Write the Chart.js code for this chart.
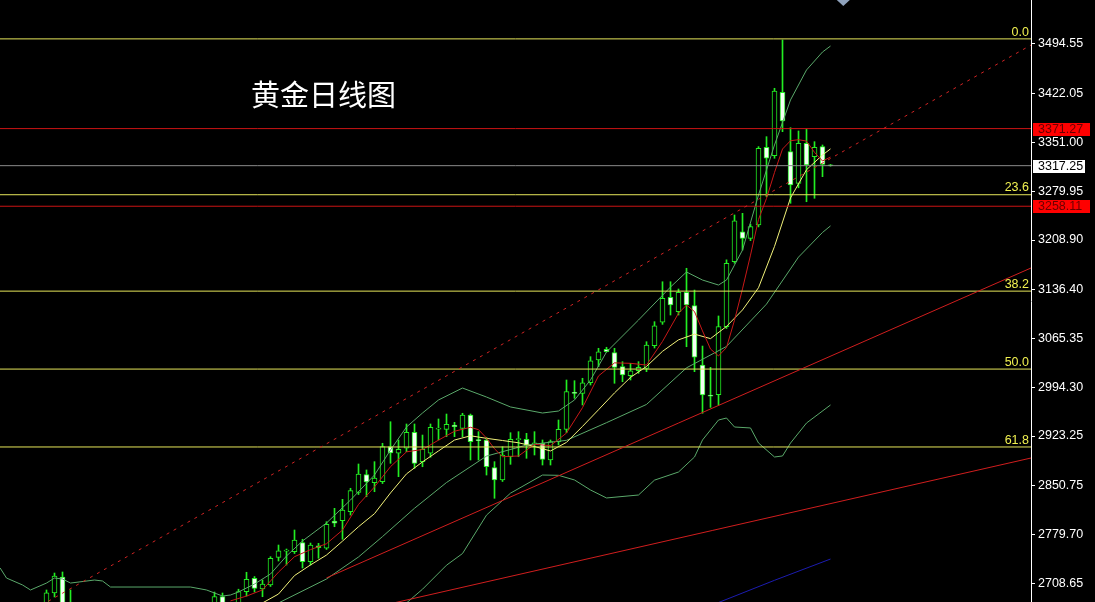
<!DOCTYPE html>
<html>
<head>
<meta charset="utf-8">
<script src="https://cdn.jsdelivr.net/npm/chart.js@4.4.1/dist/chart.umd.min.js"></script>
<style>
  html, body { margin: 0; padding: 0; background: #000; overflow: hidden; }
  #wrap { width: 1095px; height: 602px; position: relative; }
</style>
</head>
<body>
<div id="wrap"><canvas id="chart"></canvas></div>
<script>
// daily candles, one per bar index (null = below the visible window)
const opens = [null, null, null, null, null, 2675.6, 2694.5, 2717.8, 2660,
  null, null, null, null, null, null, null, null, null, null, null, null, null, null, null, null, null,
  2680, 2689.4, null, 2672, 2696.4, 2715.9, 2700.3, 2706.2, 2746.5, 2755.6, 2754.7, 2767.8, 2740.1, 2763.4,
  2760.0, 2799.4, 2799.9, 2812.9, 2840.9, 2867.2, 2855.2, 2856.7, 2907.7, 2898.1, 2905.4, 2928.7, 2885.9,
  2898.1, 2933.4, 2933.0, 2939.3, 2934.5, 2953.9, 2918.0, 2917.5, 2877.1, 2859.2, 2893.1, 2918.0, 2918.5,
  2912.0, 2912.7, 2888.3, 2915.0, 2933.0, 2986.9, 2985.5, 3000.9, 3034.1, 3049.6, 3044.7, 3024.3, 3011.2,
  3018.4, 3021.9, 3054.9, 3089.0, 3125.4, 3104.4, 3132.7, 3113.2, 3026.8, 2983.0, 2983.7, 3082.6, 3177.3,
  3221.0, 3211.4, 3230.8, 3344.0, 3331.8, 3424.2, 3337.6, 3291.5, 3349.8, 3330.3, 3344.9, 3318.5]
const highs = [null, null, null, null, null, 2698.9, 2723.6, 2725.1, 2698.9,
  null, null, null, null, null, null, null, null, null, null, null, null, null, null, null, null, null,
  2695.9, 2694.5, null, 2700, 2724.7, 2718.5, 2713.4, 2747.4, 2764.4, 2758.6, 2786.3, 2772.8, 2767.3, 2766.9,
  2798.4, 2817.9, 2831.0, 2847.1, 2882.5, 2873.8, 2885.9, 2912.7, 2944.1, 2917.5, 2940.8, 2940.8, 2924.7,
  2940.8, 2948.1, 2955.3, 2943.2, 2956.4, 2955.3, 2929.6, 2921.4, 2885.9, 2907.7, 2928.1, 2929.6, 2927.2,
  2929.6, 2917.5, 2917.5, 2946.6, 3004.9, 3003.9, 3007.4, 3038.9, 3051.1, 3052.6, 3051.1, 3031.6, 3029.2,
  3031.6, 3060.7, 3089.9, 3148.1, 3148.1, 3137.5, 3167.7, 3136.0, 3054.4, 3023.4, 3098.2, 3180, 3245.4,
  3247.8, 3232, 3345, 3359.5, 3430.0, 3500.4, 3372.6, 3367.8, 3370.2, 3352.2, 3347.4, 3319.0]
const lows = [null, null, null, null, null, 2670, 2688.7, 2660, 2650,
  null, null, null, null, null, null, null, null, null, null, null, null, null, null, null, null, null,
  2675, 2670, null, 2668, 2690, 2695.9, 2689.1, 2704, 2741.1, 2735.3, 2752, 2730.9, 2735.3, 2745.1,
  2758, 2791.1, 2772.8, 2808.1, 2838, 2834.8, 2842.1, 2854, 2883.5, 2864.0, 2900.4, 2876.2, 2878.5,
  2892.3, 2917.5, 2922.3, 2922.3, 2922.3, 2888.3, 2888.3, 2866.4, 2832.5, 2857, 2882.0, 2893.1, 2890.8,
  2895.6, 2881.0, 2881.0, 2910.2, 2928, 2978.2, 2968.5, 2997.6, 3024.3, 3045.7, 3000.1, 3002.4, 3004.9,
  3014.6, 3017.0, 3051.5, 3086, 3099.6, 3099.6, 3053.4, 3017.0, 2956.4, 2965, 2968.5, 3080, 3175,
  3194.3, 3208, 3228, 3272.0, 3328, 3366.8, 3262.4, 3285, 3264.7, 3269.7, 3301.2, 3316.5]
const closes = [null, null, null, null, null, 2694.9, 2719.3, 2666.8, 2672,
  null, null, null, null, null, null, null, null, null, null, null, null, null, null, null, null, null,
  2689.1, 2675, null, 2696.4, 2714.5, 2701.3, 2707.6, 2745.1, 2756.1, 2757.0, 2771.7, 2740.1, 2764.4, 2760.5,
  2794.6, 2796.1, 2815.5, 2843.6, 2867.9, 2856.3, 2862.1, 2908.0, 2898.5, 2903.9, 2928.7, 2883.5, 2903.9,
  2936.0, 2934.8, 2940.3, 2936.8, 2953.9, 2915.0, 2916.5, 2878.5, 2859.2, 2895.6, 2918.5, 2919.5, 2910.2,
  2913.5, 2889.3, 2915.0, 2933.0, 2987.9, 2985.4, 3000.9, 3033.0, 3046.1, 3046.1, 3023.4, 3012.2, 3018.4,
  3023.4, 3055.9, 3084.0, 3124.0, 3114.2, 3132.7, 3114.2, 3038.0, 2983.0, 2981.5, 3082.6, 3175.0, 3237.0,
  3211.4, 3228.3, 3342.6, 3328.0, 3426.1, 3382.3, 3289.1, 3349.8, 3318.2, 3344.0, 3319.2, 3317.25]

// indicator lines: [bar index, price]
const ma5 = [[28, 2683], [30, 2690.0], [32, 2699.0], [34, 2724.9], [36, 2747.4], [38, 2757.7], [40, 2766.3],
  [42, 2786.2], [44, 2823.5], [46, 2849.1], [48, 2878.6], [50, 2900.2], [52, 2903.7], [54, 2917.3],
  [56, 2930.2], [58, 2936.0], [59, 2932.5], [60, 2920.3], [61, 2904.6], [62, 2893.1], [63, 2893.7],
  [64, 2894.1], [66, 2911.2], [68, 2909.2], [70, 2927.6], [72, 2964.6], [74, 3010.8], [76, 3029.9],
  [78, 3029.2], [80, 3026.7], [82, 3061.1], [84, 3102.2], [85, 3114.1], [86, 3104.6], [87, 3076.4],
  [88, 3050.0], [89, 3040.0], [90, 3052.2], [91, 3092.0], [92, 3137.7], [93, 3186.9], [94, 3238.9],
  [95, 3269.5], [96, 3307.3], [97, 3341.5], [98, 3353.6], [99, 3355.1], [100, 3353.1], [101, 3336.7],
  [102, 3324.1], [103, 3329.7]]
const ma10 = [[32, 2680], [34, 2693], [36, 2719.9], [38, 2735.4], [40, 2749.8], [42, 2770.1], [44, 2791.1],
  [46, 2810.1], [48, 2840.3], [50, 2868.1], [52, 2885.6], [54, 2901.5], [56, 2917.4], [58, 2923.6],
  [60, 2919.9], [62, 2916.7], [64, 2913.4], [66, 2908.0], [68, 2901.5], [70, 2914.0], [72, 2937.3],
  [74, 2961.5], [76, 2986.1], [78, 3008.7], [80, 3024.6], [82, 3046.7], [84, 3063.4], [86, 3071.7],
  [88, 3065.2], [90, 3083.0], [92, 3107.0], [94, 3139.4], [96, 3199.6], [98, 3270.2], [100, 3311.3],
  [102, 3332.8], [103, 3341.7]]
const bandUpper = [[-0.8, 2731], [0, 2716.3], [2, 2706.2], [3, 2698.9], [5, 2709.0], [6, 2716.3], [7, 2714.9],
  [8, 2709.0], [11, 2713.4], [12, 2712.0], [13, 2703.2], [23, 2703.2], [25, 2698.9], [27, 2690.1],
  [28, 2691.6], [29, 2696.0], [31, 2707.6], [33, 2722.2], [35, 2748.4], [37, 2770.3], [40, 2796.5],
  [43, 2830.0], [46, 2866.5], [48, 2902.9], [50, 2936.4], [52, 2956.8], [54, 2975.8], [57, 2993.2],
  [60, 2980.1], [63, 2965.6], [67, 2956.8], [69, 2959.7], [71, 2975.8], [73, 3004.9], [75, 3045.7],
  [79, 3092.3], [83, 3140.4], [85, 3162.3], [87, 3150.6], [89, 3143.3], [90, 3150.6], [92, 3194.3],
  [94, 3274.5], [96, 3347.4], [98, 3413.0], [100, 3456.7], [102, 3482.9], [103, 3491.6]]
const bandMiddle = [[34, 2680], [40, 2714.9], [44, 2747.0], [47, 2776.7], [51, 2818.0], [55, 2855.5],
  [60, 2894.0], [65, 2910.1], [70, 2917.0], [75, 2942.7], [80, 2969.3], [85, 3022.6], [90, 3053.8],
  [95, 3115.5], [99, 3184.0], [102, 3219.9], [103, 3229.5]]
const bandLower = [[50, 2680], [52, 2700], [55, 2735], [57, 2752], [60, 2808], [63, 2840], [67, 2866.4],
  [69, 2866], [71, 2859.2], [73, 2844.6], [75, 2833], [79, 2837.3], [81, 2859], [84, 2870.8], [86, 2892.7],
  [87, 2917.5], [89, 2946.6], [90, 2949.5], [91, 2936.4], [93, 2935], [94, 2913.1], [96, 2892.7],
  [97, 2894.2], [98, 2913], [100, 2942.2], [103, 2968.5]]
const longMa = [[88, 2676], [96, 2713], [103, 2744]]

// drawn objects
const channelDashed = [[0, 2648], [128.06, 3493.0]]
const trendUpper = [[40, 2716.5], [128.06, 3168.1]]
const trendLower = [[45, 2671.0], [128.06, 2891.2]]
const fibLabels = ['0.0', '23.6', '38.2', '50.0', '61.8']
const fibValues = [3502.0, 3274.9, 3134.4, 3020.8, 2907.3]
const redLevels = [3371.27, 3258.11]
const lastPrice = 3317.25
const axisTicks = [3494.55, 3422.05, 3351.00, 3279.95, 3208.90, 3136.40, 3065.35, 2994.30, 2923.25,
  2850.75, 2779.70, 2708.65]
const titleText = '黄金日线图'

const xMin = -0.8125
const xMax = 128.0625
const yMin = 2681.38
const yMax = 3558.67
const green = '#22ee22'

const wickData = []
const bodyData = []
const bodyFill = []
closes.forEach((c, i) => {
  if (c === null) return
  wickData.push({ x: i, y: [lows[i], highs[i]] })
  bodyData.push({ x: i, y: [opens[i], c] })
  bodyFill.push(c >= opens[i] ? '#000000' : '#f4fff4')
})

const pts = (arr) => arr.map(([x, y]) => ({ x, y }))
const flat = (v) => [{ x: xMin, y: v }, { x: xMax, y: v }]
const line = (data, color, order, extra) => Object.assign({
  type: 'line', data, borderColor: color, borderWidth: 1, pointRadius: 0, fill: false, tension: 0, order
}, extra || {})

const datasets = [
  { type: 'bar', data: wickData, backgroundColor: green, barThickness: 1, grouped: false, order: 30 },
  {
    type: 'bar', data: bodyData, backgroundColor: bodyFill, borderColor: green, borderWidth: 1,
    borderSkipped: false, barThickness: 5, grouped: false, order: 29
  },
  line(pts(bandUpper), '#5aa86a', 20),
  line(pts(bandMiddle), '#5aa86a', 20),
  line(pts(bandLower), '#5aa86a', 20),
  line(pts(longMa), '#1c1cb0', 20),
  line(pts(ma10), '#f2f27a', 18),
  line(pts(ma5), '#c81818', 17),
  line(flat(lastPrice), '#8a8a8a', 12)
]
fibValues.forEach((v) => datasets.push(line(flat(v), '#e6e65a', 11)))
redLevels.forEach((v) => datasets.push(line(flat(v), '#cc1414', 11)))
datasets.push(line(pts(channelDashed), '#d02424', 10, { borderDash: [3, 5] }))
datasets.push(line(pts(trendUpper), '#d01e1e', 10))
datasets.push(line(pts(trendLower), '#d01e1e', 10))

const overlay = {
  id: 'overlay',
  afterDraw (chart) {
    const ctx = chart.ctx
    const ys = chart.scales.y
    const xs = chart.scales.x
    const area = chart.chartArea
    ctx.save()
    // title label
    ctx.fillStyle = '#ffffff'
    ctx.font = '29px "Noto Sans CJK SC"'
    ctx.textAlign = 'left'
    ctx.textBaseline = 'alphabetic'
    ctx.fillText(titleText, 251, 106)
    // fibo level captions
    ctx.font = '12.5px "Liberation Sans"'
    ctx.textAlign = 'right'
    ctx.textBaseline = 'bottom'
    ctx.fillStyle = '#f0f050'
    fibValues.forEach((v, k) => {
      ctx.fillText(fibLabels[k], area.right - 2, ys.getPixelForValue(v) - 0.5)
    })
    // price tags on the axis
    ctx.textAlign = 'left'
    ctx.textBaseline = 'middle'
    const tag = (v, bg, fg, w) => {
      const py = ys.getPixelForValue(v)
      ctx.fillStyle = bg
      ctx.fillRect(area.right + 2, Math.round(py) - 6, w, 13)
      ctx.fillStyle = fg
      ctx.fillText(v.toFixed(2), area.right + 7, py + 0.5)
    }
    redLevels.forEach((v) => tag(v, '#ff0000', '#6a0000', 57))
    tag(lastPrice, '#ffffff', '#000000', 52)
    // chart shift marker
    const mx = xs.getPixelForValue(104.6)
    ctx.fillStyle = '#8fa2bc'
    ctx.beginPath()
    ctx.moveTo(mx - 6.5, 0)
    ctx.lineTo(mx + 6.5, 0)
    ctx.lineTo(mx, 6)
    ctx.closePath()
    ctx.fill()
    ctx.restore()
  }
}

new Chart(document.getElementById('chart'), {
  type: 'bar',
  data: { datasets },
  options: {
    responsive: true,
    maintainAspectRatio: false,
    animation: false,
    layout: { padding: 0 },
    plugins: { legend: { display: false }, tooltip: { enabled: false } },
    scales: {
      x: { type: 'linear', display: false, min: xMin, max: xMax, offset: false },
      y: {
        type: 'linear',
        position: 'right',
        min: yMin,
        max: yMax,
        beginAtZero: false,
        afterBuildTicks: (s) => { s.ticks = axisTicks.map((v) => ({ value: v })) },
        afterFit: (s) => { s.width = 64; s.paddingTop = 0; s.paddingBottom = 0 },
        ticks: {
          color: '#ffffff',
          autoSkip: false,
          padding: 3,
          font: { family: 'Liberation Sans', size: 12.5 },
          callback: (v) => Number(v).toFixed(2)
        },
        grid: { drawOnChartArea: false, drawTicks: true, tickLength: 4, color: '#ffffff' },
        border: { display: true, color: '#ffffff', width: 1 }
      }
    }
  },
  plugins: [overlay]
})
</script>
</body>
</html>
